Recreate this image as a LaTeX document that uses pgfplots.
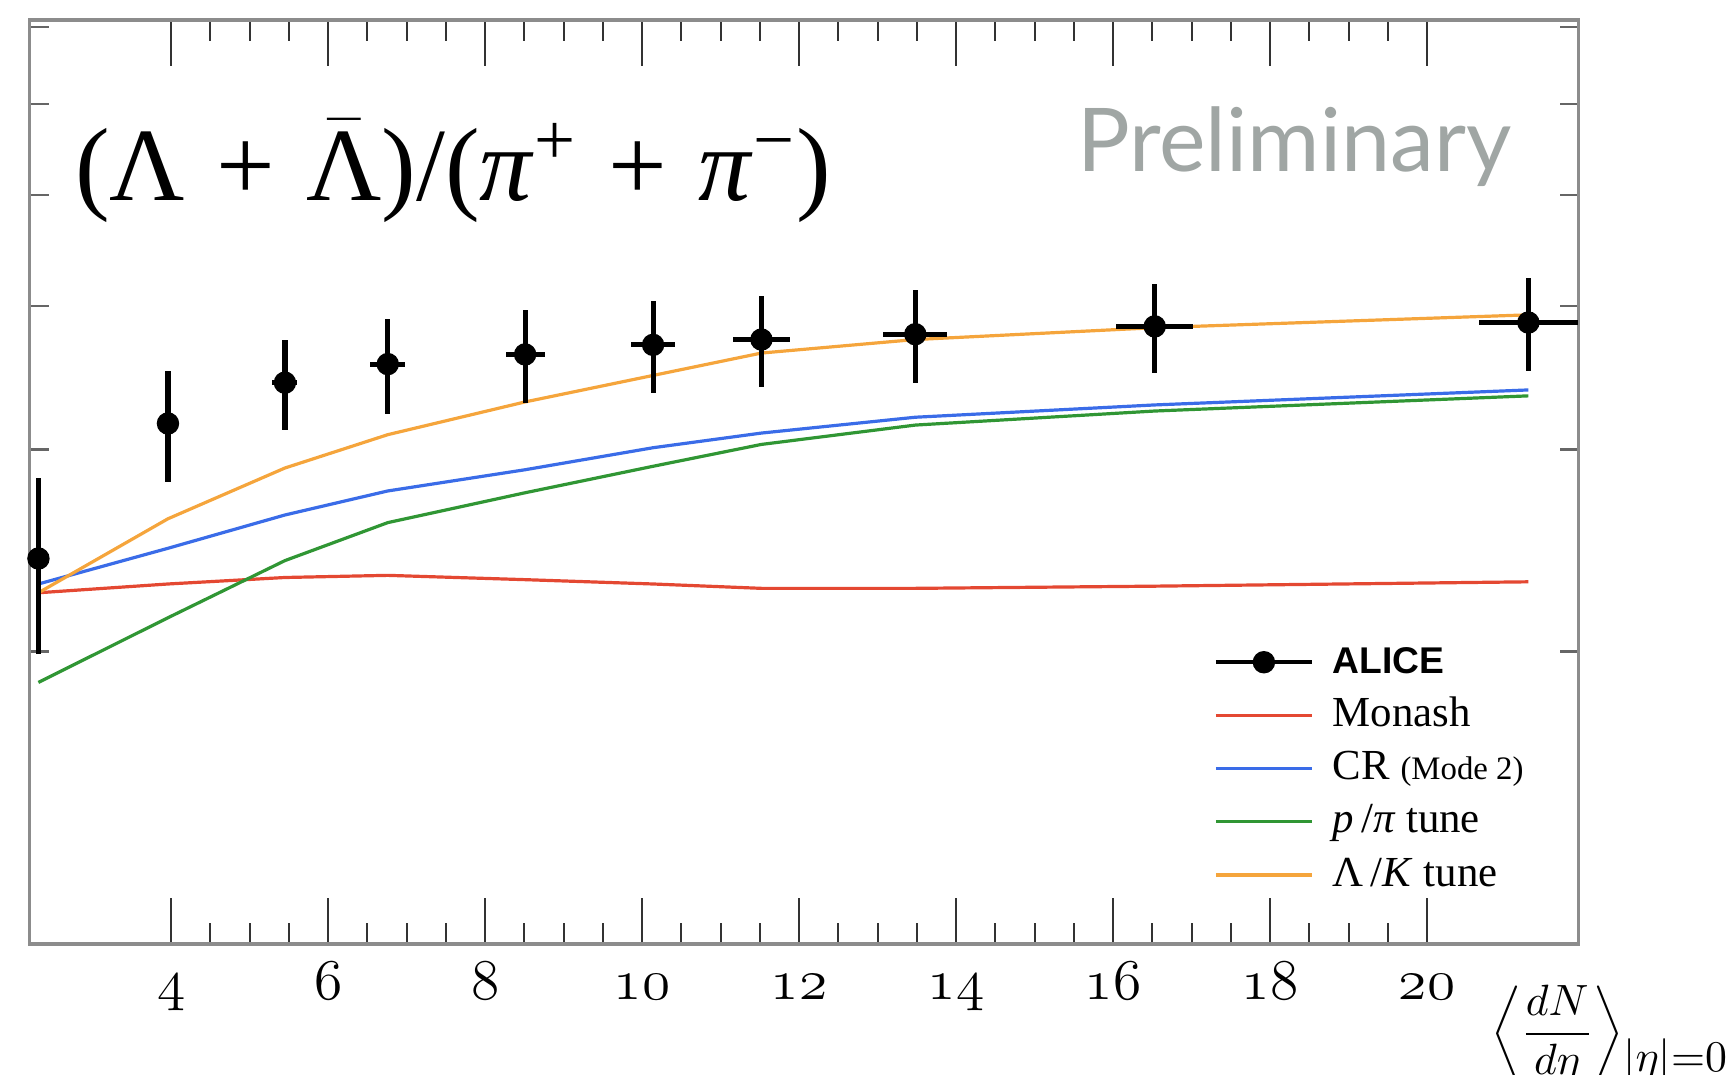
\documentclass[border=0pt]{standalone}
\usepackage{fontspec}
\setmainfont{Liberation Serif}
\newfontfamily\alicefont{Liberation Sans}
\newfontfamily\prelimfont{Lato}
\usepackage{pgfplots}
\pgfplotsset{compat=1.18}

\definecolor{monash}{RGB}{228,72,50}
\definecolor{crmode}{RGB}{58,108,232}
\definecolor{pptune}{RGB}{48,150,52}
\definecolor{lktune}{RGB}{245,165,60}
\definecolor{prelim}{RGB}{160,166,164}

\begin{document}
\begin{tikzpicture}
\begin{axis}[
  scale only axis,
  width=387.2pt, height=231pt,
  xmin=2.2, xmax=21.93,
  ymode=log, ymin=0.01112, ymax=0.0710,
  xtick={4,6,...,20},
  xticklabels={$\mathnormal{4}$,$\mathnormal{6}$,$\mathnormal{8}$,$\mathnormal{10}$,$\mathnormal{12}$,$\mathnormal{14}$,$\mathnormal{16}$,$\mathnormal{18}$,$\mathnormal{20}$},
  minor x tick num=3,
  xtick pos=both, xticklabel pos=lower,
  ytick={0.02,0.03,0.04,0.05,0.06,0.07},
  yticklabels={},
  ytick pos=both,
  axis line style={draw=black!45, line width=0.8pt},
  xtick style={draw=black!80, line width=0.5pt, /pgfplots/major tick length=11.5pt, /pgfplots/minor tick length=5.3pt},
  ytick style={draw=black!60, line width=0.6pt, /pgfplots/major tick length=4.7pt},
  xticklabel style={font=\fontsize{15}{18}\selectfont, anchor=base, yshift=-13.8pt},
  legend image code/.code={\draw[mark repeat=2,mark phase=2,#1] plot coordinates {(0pt,0pt) (12pt,0pt) (24pt,0pt)};},
  legend cell align=left,
  legend style={draw=none, fill=none, at={(0.764,0.3286)}, anchor=north west,
    inner sep=0pt, row sep=2.8pt,
    font=\fontsize{10.7}{13}\selectfont,
    nodes={inner sep=0pt, text height=8pt, text depth=2.5pt},
    /tikz/every odd column/.append style={column sep=4.7pt}},
]
\addlegendimage{black, line width=1pt, mark=*, mark size=2.3pt}
\addlegendentry{{\alicefont\bfseries\fontsize{9.3}{12}\selectfont ALICE}}

\addplot[monash, line width=0.8pt] coordinates {
  (2.31,0.0225) (3.96,0.0229) (5.45,0.0232) (6.76,0.0233) (8.51,0.0231)
  (10.14,0.0229) (11.52,0.0227) (13.48,0.0227) (16.53,0.0228) (21.29,0.0230)};
\addlegendentry{Monash}

\addplot[crmode, line width=0.8pt] coordinates {
  (2.31,0.0229) (3.96,0.0246) (5.45,0.0263) (6.76,0.0276) (8.51,0.0288)
  (10.14,0.0301) (11.52,0.0310) (13.48,0.0320) (16.53,0.0328) (21.29,0.0338)};
\addlegendentry{CR {\fontsize{8.2}{10}\selectfont (Mode 2)}}

\addplot[pptune, line width=0.8pt] coordinates {
  (2.31,0.0188) (3.96,0.0214) (5.45,0.0240) (6.76,0.0259) (8.51,0.0275)
  (10.14,0.0290) (11.52,0.0303) (13.48,0.0315) (16.53,0.0324) (21.29,0.0334)};
\addlegendentry{\textit{p}\,/\textit{π} tune}

\addplot[lktune, line width=0.8pt] coordinates {
  (2.31,0.0225) (3.96,0.0261) (5.45,0.0289) (6.76,0.0309) (8.51,0.0330)
  (10.14,0.0348) (11.52,0.0364) (13.48,0.0374) (16.53,0.0383) (21.29,0.0393)};
\addlegendentry{Λ\,/\textit{K} tune}

\addplot[black, only marks, mark=*, mark size=2.6pt, forget plot,
  error bars/.cd, x dir=both, x explicit, y dir=both, y explicit,
  error mark=none, error bar style={line width=1.3pt, black}]
  coordinates {
  (2.31,0.0241) +- (0,0.0042)
  (3.96,0.0316) +- (0.10,0.0035)
  (5.45,0.0343) +- (0.16,0.0031)
  (6.76,0.0356) +- (0.22,0.0034)
  (8.51,0.0363) +- (0.25,0.0034)
  (10.14,0.0370) +- (0.28,0.0034)
  (11.52,0.0374) +- (0.36,0.0034)
  (13.48,0.0378) +- (0.41,0.0035)
  (16.53,0.0384) +- (0.49,0.0034)
  (21.29,0.0387) +- (0.63,0.0036)};
\end{axis}
\node at (105.8pt,193.2pt) {\fontsize{26}{30}\selectfont (Λ\hspace{0.3em}+\hspace{0.3em}$\bar{\hbox{Λ}}$)/(\textit{π}\textsuperscript{+}\hspace{0.3em}+\hspace{0.3em}\textit{π}\textsuperscript{−})};
\node[prelim] at (316.1pt,199.4pt) {\prelimfont\fontsize{22}{26}\selectfont Preliminary};
\node[anchor=base east, inner sep=0pt] at (424.5pt,-25.2pt) {\fontsize{11}{13}\selectfont$\left\langle\displaystyle\frac{dN}{d\eta}\right\rangle$\raisebox{-6.7pt}{$|\eta|{=}0$}};
\pgfresetboundingbox
\path[use as bounding box] (-7.45pt,-32.5pt) rectangle (425.3pt,236pt);
\end{tikzpicture}
\end{document}
